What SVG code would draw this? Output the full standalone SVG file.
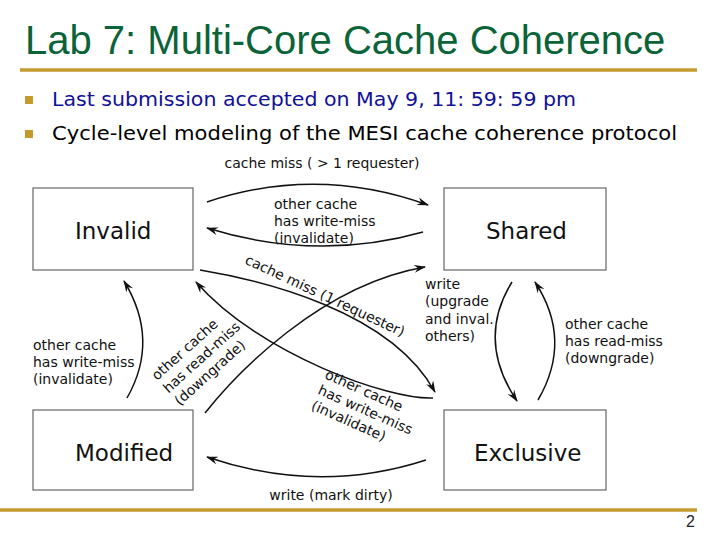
<svg xmlns="http://www.w3.org/2000/svg" width="720" height="540" viewBox="0 0 720 540">
<defs>
<marker id="ah" viewBox="0 0 12 8" markerWidth="12" markerHeight="8" refX="11" refY="4" orient="auto" markerUnits="userSpaceOnUse">
<path d="M0,0 L12,4 L0,8 L4,4 z" fill="#111"/>
</marker>
<style>
.title{font-family:"Liberation Sans",Arial,sans-serif;font-size:40px;fill:#0B6338}
.bul{font-family:"DejaVu Sans",Verdana,sans-serif;font-size:20px}
.node rect{fill:#fff;stroke:#666;stroke-width:1.2}
.node text{font-family:"DejaVu Sans",sans-serif;font-size:23px;fill:#111}
.lbl{font-family:"DejaVu Sans",sans-serif;font-size:14px;fill:#111}
.edge{fill:none;stroke:#111;stroke-width:1.5;marker-end:url(#ah)}
.gold{stroke:#C49A2C;stroke-width:3.5}
</style>
</defs>
<rect width="720" height="540" fill="#fff"/>
<text class="title" x="25" y="54">Lab 7: Multi-Core Cache Coherence</text>
<line class="gold" x1="20" y1="70" x2="697" y2="70"/>
<rect x="25" y="96" width="8" height="8" fill="#C49A2C"/>
<rect x="25" y="130" width="8" height="8" fill="#C49A2C"/>
<text class="bul" x="52" y="106" fill="#101099" textLength="524" lengthAdjust="spacingAndGlyphs">Last submission accepted on May 9, 11: 59: 59 pm</text>
<text class="bul" x="52" y="140" fill="#000" textLength="625" lengthAdjust="spacingAndGlyphs">Cycle-level modeling of the MESI cache coherence protocol</text>

<g id="invalid" class="node"><rect x="33" y="188" width="160" height="82"/><text x="75" y="239">Invalid</text></g>
<g id="shared" class="node"><rect x="444" y="188" width="162" height="82"/><text x="486" y="239">Shared</text></g>
<g id="modified" class="node"><rect x="33" y="410" width="160" height="80"/><text x="75" y="461">Modified</text></g>
<g id="exclusive" class="node"><rect x="444" y="410" width="162" height="80"/><text x="474" y="461">Exclusive</text></g>

<g id="connectors">
<path class="edge" d="M207,202 Q317,165 428,205"/>
<path class="edge" d="M423,232 Q317,262 207,228"/>
<path class="edge" d="M200,270 C260,280 390,310 435,392"/>
<path class="edge" d="M433,398 C390,400 260,355 196,282"/>
<path class="edge" d="M205,413 C235,375 320,285 425,267"/>
<path class="edge" d="M127,398 Q160,340 124,281"/>
<path class="edge" d="M512,282 Q476,340 517,401"/>
<path class="edge" d="M538,400 Q573,340 535,282"/>
<path class="edge" d="M426,460 Q318,495 207,457"/>
</g>

<g id="labels" class="lbl">
<text x="322" y="168" text-anchor="middle">cache miss ( &gt; 1 requester)</text>
<text x="274" y="209">other cache</text>
<text x="274" y="226">has write-miss</text>
<text x="274" y="243">(invalidate)</text>
<text x="33" y="350">other cache</text>
<text x="33" y="367">has write-miss</text>
<text x="33" y="384">(invalidate)</text>
<text x="425" y="289">write</text>
<text x="425" y="306">(upgrade</text>
<text x="425" y="324">and inval.</text>
<text x="425" y="341">others)</text>
<text x="565" y="329">other cache</text>
<text x="565" y="346">has read-miss</text>
<text x="565" y="363">(downgrade)</text>
<text x="331" y="500" text-anchor="middle">write (mark dirty)</text>
<text transform="translate(323,300) rotate(25)" text-anchor="middle">cache miss (1 requester)</text>
<g transform="translate(157,381) rotate(-42)">
<text x="0" y="0">other cache</text>
<text x="0" y="17">has read-miss</text>
<text x="0" y="34">(downgrade)</text>
</g>
<g transform="translate(324,378) rotate(24)">
<text x="0" y="0">other cache</text>
<text x="0" y="17">has write-miss</text>
<text x="0" y="34">(invalidate)</text>
</g>
</g>

<line class="gold" x1="0" y1="510" x2="697" y2="510"/>
<text x="686" y="527" font-family="Liberation Sans Narrow,Liberation Sans,sans-serif" font-size="16" fill="#222">2</text>
</svg>
